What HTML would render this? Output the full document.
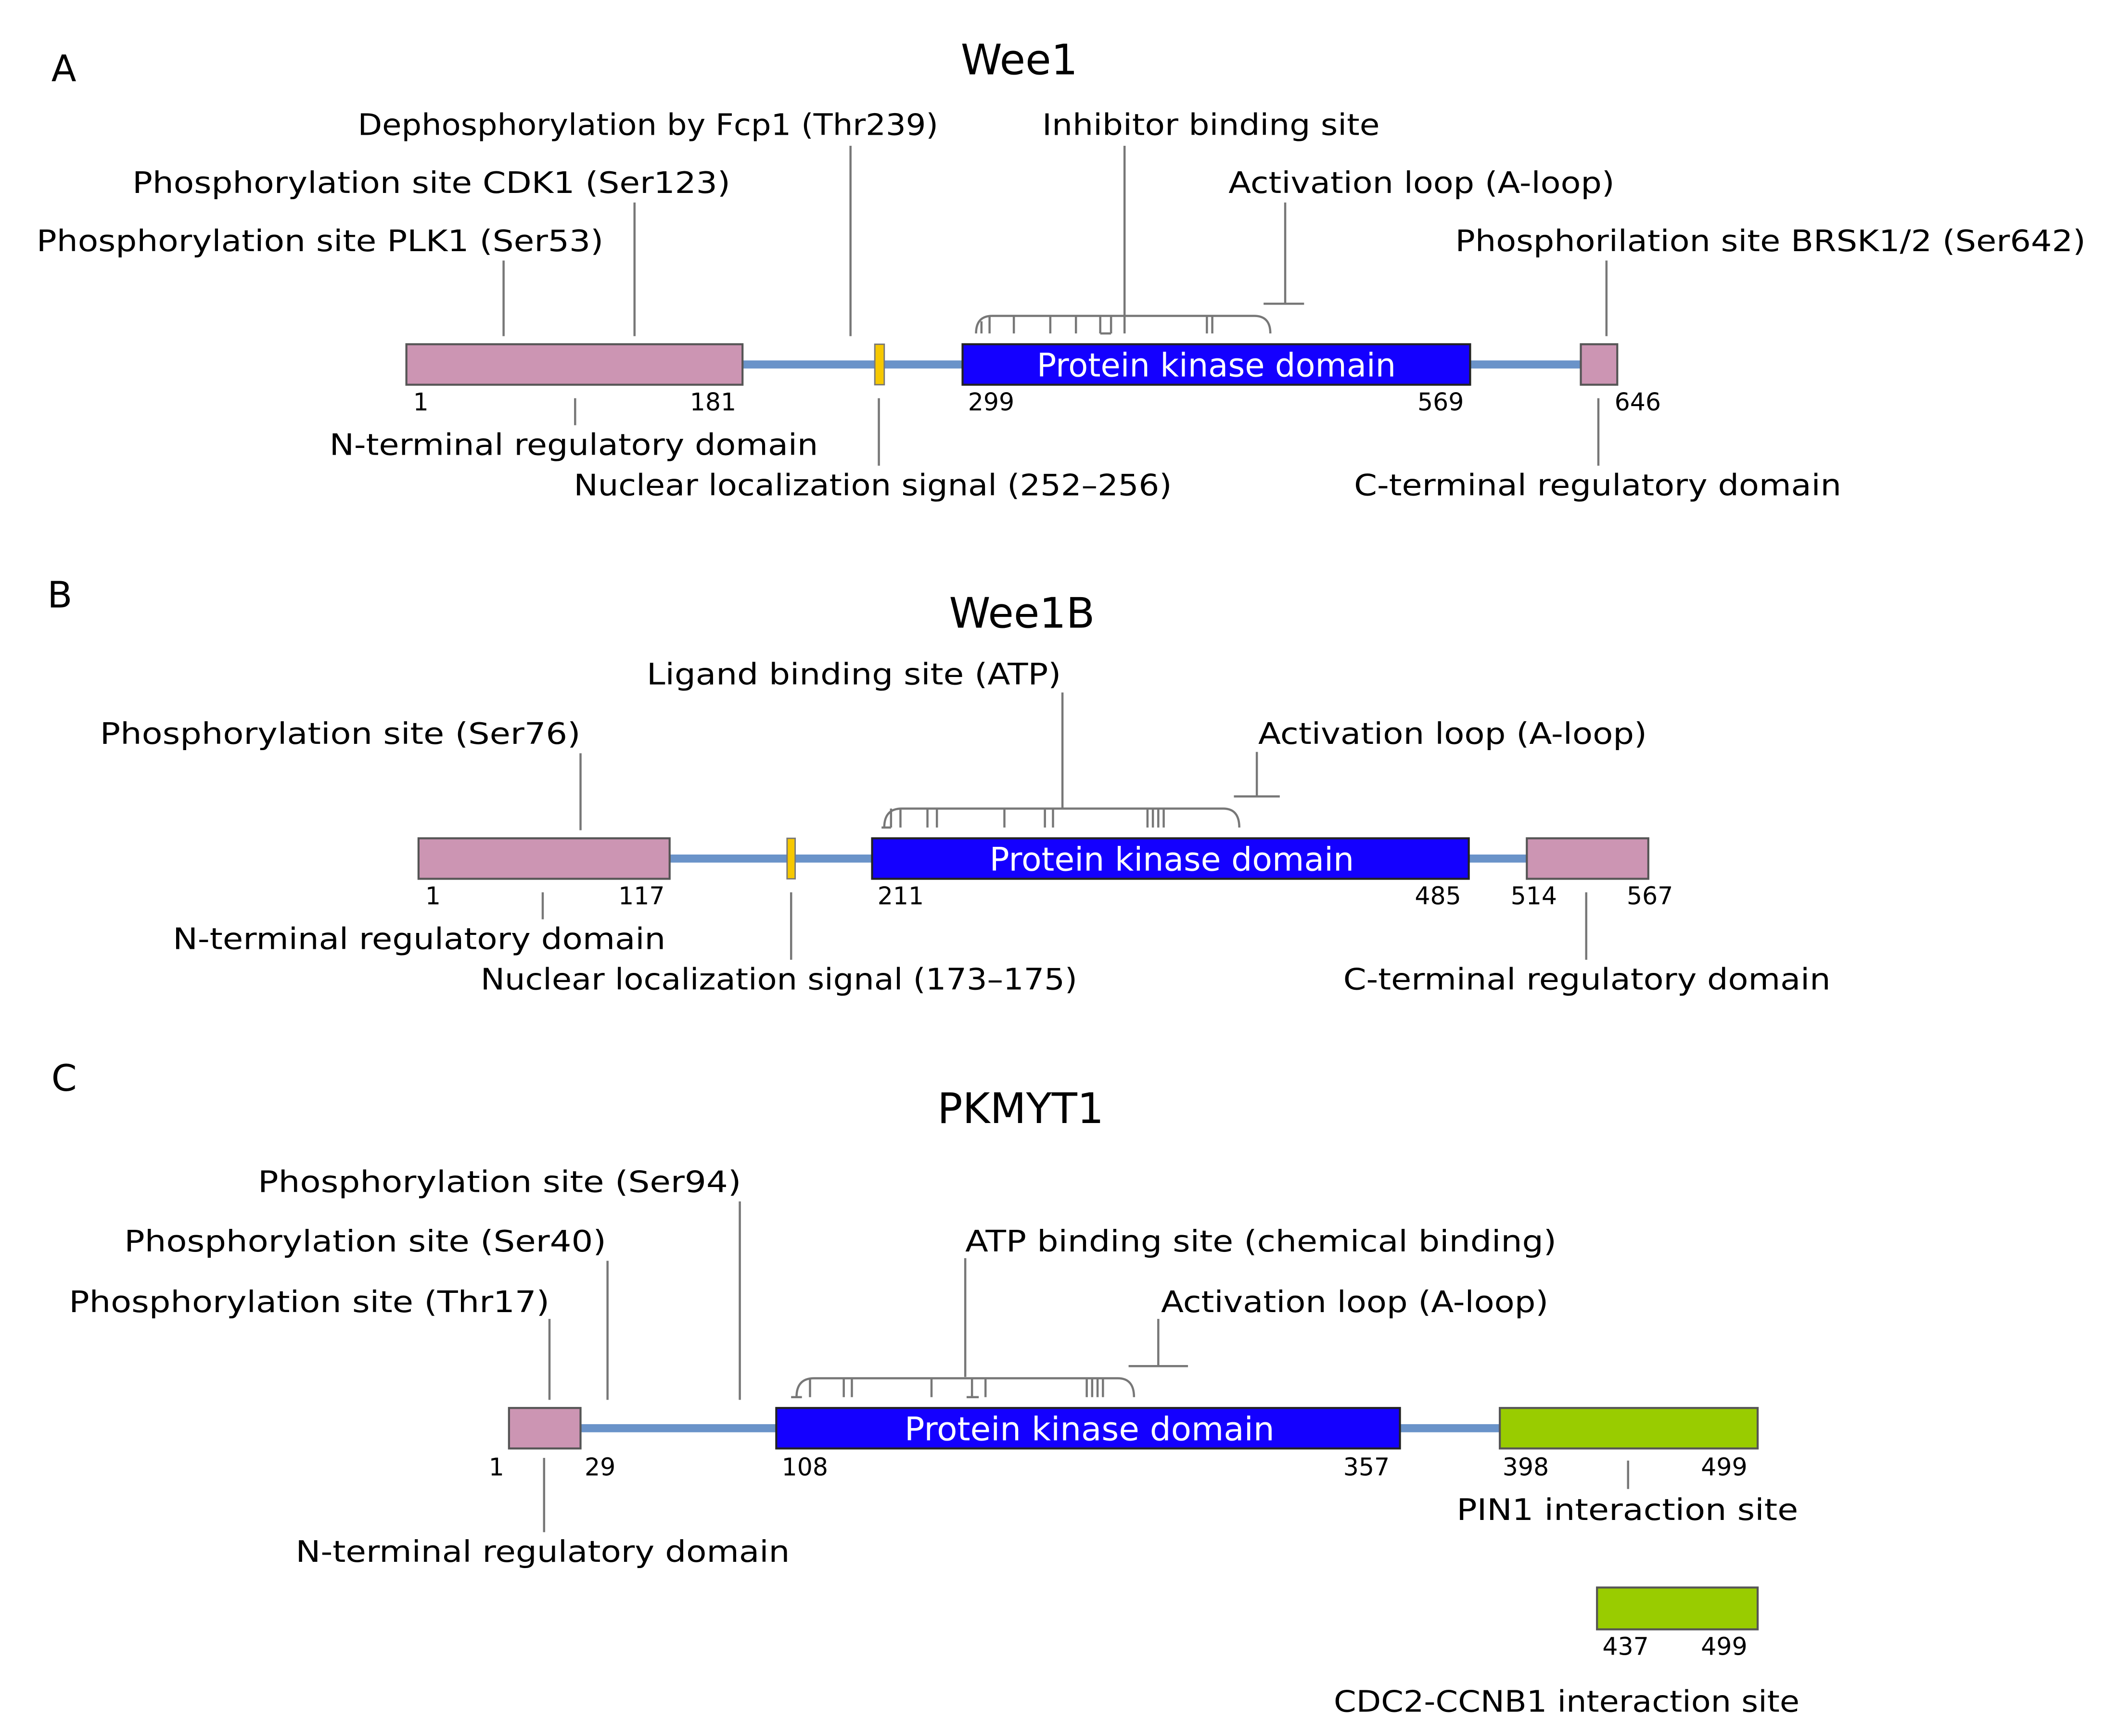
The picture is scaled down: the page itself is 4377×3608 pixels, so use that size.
<!DOCTYPE html>
<html><head><meta charset="utf-8"><style>
html,body{margin:0;padding:0;background:#fff;}
svg{display:block;}
text{font-family:"DejaVu Sans","Liberation Sans",sans-serif;fill:#000;}
.l{font-size:22px;}
.n{font-size:18px;}
.w{font-size:24px;fill:#fff;}
.t{font-size:31px;}
.g{stroke:#777;stroke-width:1.6;fill:none;}
</style></head><body>
<svg width="4377" height="3608" viewBox="0 0 1560 1286" xmlns="http://www.w3.org/2000/svg">
<rect width="1560" height="1286" fill="#fff"/>

<!-- A -->
<text x="38" y="60" class="t" style="font-size:27px">A</text>
<text x="755" y="55" class="t" text-anchor="middle">Wee1</text>
<text x="265" y="100" class="l" textLength="430" lengthAdjust="spacingAndGlyphs">Dephosphorylation by Fcp1 (Thr239)</text>
<text x="772" y="100" class="l" textLength="250" lengthAdjust="spacingAndGlyphs">Inhibitor binding site</text>
<text x="98" y="143" class="l" textLength="443" lengthAdjust="spacingAndGlyphs">Phosphorylation site CDK1 (Ser123)</text>
<text x="910" y="143" class="l" textLength="286" lengthAdjust="spacingAndGlyphs">Activation loop (A-loop)</text>
<text x="27" y="186" class="l" textLength="420" lengthAdjust="spacingAndGlyphs">Phosphorylation site PLK1 (Ser53)</text>
<text x="1078" y="186" class="l" textLength="467" lengthAdjust="spacingAndGlyphs">Phosphorilation site BRSK1/2 (Ser642)</text>
<path class="g" d="M373 193V249M470 150V249M630 108V249M833 108V234M952 150V225M936 225H966M1190 193V249"/>
<path class="g" d="M723 247Q723 234 735 234H929Q941 234 941 247M727 238V247M733 234V247M751 234V247M778 234V247M797 234V247M815 234V247M823 234V247M815 247H823M833 234V247M894 234V247M898 234V247"/>
<line x1="550" y1="270" x2="1172" y2="270" stroke="#6a93c9" stroke-width="6"/>
<rect x="301" y="255" width="249" height="30" fill="#cc95b3" stroke="#555" stroke-width="1.5"/>
<rect x="648" y="255" width="7" height="30" fill="#f6c800" stroke="#777" stroke-width="1"/>
<rect x="713" y="255" width="376" height="30" fill="#1400ff" stroke="#222" stroke-width="1.5"/>
<text x="768" y="279" class="w" textLength="266" lengthAdjust="spacingAndGlyphs">Protein kinase domain</text>
<rect x="1171" y="255" width="27" height="30" fill="#cc95b3" stroke="#555" stroke-width="1.5"/>
<text x="306" y="304" class="n">1</text><text x="511" y="304" class="n">181</text><text x="717" y="304" class="n">299</text><text x="1050" y="304" class="n">569</text><text x="1196" y="304" class="n">646</text>
<path class="g" d="M426 295V315M651 295V345M1184 295V345"/>
<text x="244" y="337" class="l" textLength="362" lengthAdjust="spacingAndGlyphs">N-terminal regulatory domain</text>
<text x="425" y="367" class="l" textLength="443" lengthAdjust="spacingAndGlyphs">Nuclear  localization  signal  (252–256)</text>
<text x="1003" y="367" class="l" textLength="361" lengthAdjust="spacingAndGlyphs">C-terminal regulatory domain</text>

<!-- B -->
<text x="35" y="450" class="t" style="font-size:27px">B</text>
<text x="757" y="465" class="t" text-anchor="middle">Wee1B</text>
<text x="479" y="507" class="l" textLength="307" lengthAdjust="spacingAndGlyphs">Ligand binding site (ATP)</text>
<text x="74" y="551" class="l" textLength="356" lengthAdjust="spacingAndGlyphs">Phosphorylation site (Ser76)</text>
<text x="932" y="551" class="l" textLength="288" lengthAdjust="spacingAndGlyphs">Activation loop (A-loop)</text>
<path class="g" d="M787 513V599M430 558V615M931 557V590M914 590H948"/>
<path class="g" d="M655 613Q655 599 668 599H906Q918 599 918 613M653 613H660M660 599V613M667 599V613M687 599V613M694 599V613M744 599V613M774 599V613M780 599V613M850 599V613M854 599V613M858 599V613M862 599V613"/>
<line x1="496" y1="636" x2="1221" y2="636" stroke="#6a93c9" stroke-width="6"/>
<rect x="310" y="621" width="186" height="30" fill="#cc95b3" stroke="#555" stroke-width="1.5"/>
<rect x="583" y="621" width="6" height="30" fill="#f6c800" stroke="#777" stroke-width="1"/>
<rect x="646" y="621" width="442" height="30" fill="#1400ff" stroke="#222" stroke-width="1.5"/>
<text x="733" y="645" class="w" textLength="270" lengthAdjust="spacingAndGlyphs">Protein kinase domain</text>
<rect x="1131" y="621" width="90" height="30" fill="#cc95b3" stroke="#555" stroke-width="1.5"/>
<text x="315" y="670" class="n">1</text><text x="458" y="670" class="n">117</text><text x="650" y="670" class="n">211</text><text x="1048" y="670" class="n">485</text><text x="1119" y="670" class="n">514</text><text x="1205" y="670" class="n">567</text>
<path class="g" d="M402 661V681M586 661V711M1175 661V711"/>
<text x="128" y="703" class="l" textLength="365" lengthAdjust="spacingAndGlyphs">N-terminal regulatory domain</text>
<text x="356" y="733" class="l" textLength="442" lengthAdjust="spacingAndGlyphs">Nuclear  localization  signal  (173–175)</text>
<text x="995" y="733" class="l" textLength="361" lengthAdjust="spacingAndGlyphs">C-terminal regulatory domain</text>

<!-- C -->
<text x="38" y="808" class="t" style="font-size:27px">C</text>
<text x="756" y="832" class="t" text-anchor="middle">PKMYT1</text>
<text x="191" y="883" class="l" textLength="358" lengthAdjust="spacingAndGlyphs">Phosphorylation  site (Ser94)</text>
<text x="92" y="927" class="l" textLength="357" lengthAdjust="spacingAndGlyphs">Phosphorylation  site (Ser40)</text>
<text x="715" y="927" class="l" textLength="438" lengthAdjust="spacingAndGlyphs">ATP binding site (chemical binding)</text>
<text x="51" y="972" class="l" textLength="356" lengthAdjust="spacingAndGlyphs">Phosphorylation site (Thr17)</text>
<text x="860" y="972" class="l" textLength="287" lengthAdjust="spacingAndGlyphs">Activation loop (A-loop)</text>
<path class="g" d="M548 890V1037M450 934V1037M715 932V1020M407 977V1037M858 977V1012M836 1012H880"/>
<path class="g" d="M590 1035Q590 1021 603 1021H828Q840 1021 840 1035M586 1035H594M600 1021V1035M625 1021V1035M631 1021V1035M690 1021V1035M720 1021V1035M716 1035H725M730 1021V1035M805 1021V1035M809 1021V1035M813 1021V1035M817 1021V1035"/>
<line x1="430" y1="1058" x2="1111" y2="1058" stroke="#6a93c9" stroke-width="6"/>
<rect x="377" y="1043" width="53" height="30" fill="#cc95b3" stroke="#555" stroke-width="1.5"/>
<rect x="575" y="1043" width="462" height="30" fill="#1400ff" stroke="#222" stroke-width="1.5"/>
<text x="670" y="1067" class="w" textLength="274" lengthAdjust="spacingAndGlyphs">Protein kinase domain</text>
<rect x="1111" y="1043" width="191" height="30" fill="#99cc00" stroke="#555" stroke-width="1.5"/>
<text x="362" y="1093" class="n">1</text><text x="433" y="1093" class="n">29</text><text x="579" y="1093" class="n">108</text><text x="995" y="1093" class="n">357</text><text x="1113" y="1093" class="n">398</text><text x="1260" y="1093" class="n">499</text>
<path class="g" d="M403 1080V1135M1206 1082V1103"/>
<text x="219" y="1157" class="l" textLength="366" lengthAdjust="spacingAndGlyphs">N-terminal regulatory domain</text>
<text x="1079" y="1126" class="l" textLength="253" lengthAdjust="spacingAndGlyphs">PIN1 interaction site</text>
<rect x="1183" y="1176" width="119" height="31" fill="#99cc00" stroke="#555" stroke-width="1.5"/>
<text x="1187" y="1226" class="n">437</text><text x="1260" y="1226" class="n">499</text>
<text x="988" y="1268" class="l" textLength="345" lengthAdjust="spacingAndGlyphs">CDC2-CCNB1 interaction site</text>
</svg>
</body></html>
